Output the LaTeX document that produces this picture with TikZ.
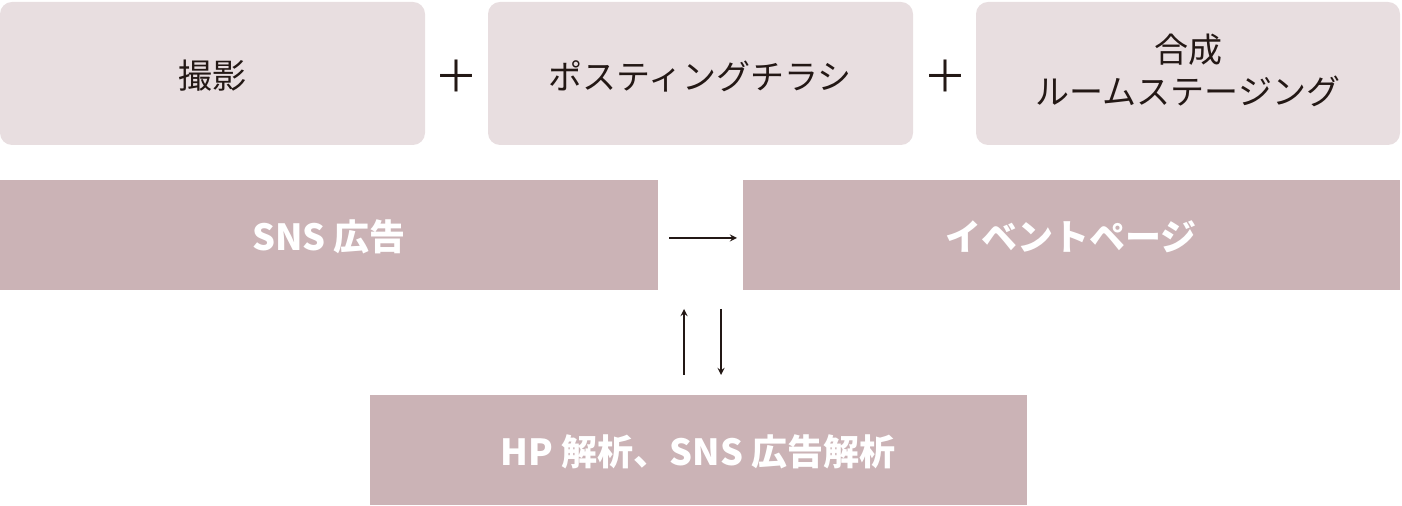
\documentclass[tikz,border=0pt]{standalone}
\usepackage{fontspec}
\setmainfont{Noto Sans CJK JP}
\begin{document}
\begin{tikzpicture}[x=0.5pt,y=-0.5pt,
  light/.style={fill=lb,draw=none,rounded corners=6pt},
  dark/.style={fill=db,draw=none},
  toptxt/.style={text=tc,font=\fontsize{17}{21}\selectfont,align=center},
  bottxt/.style={text=white,font=\bfseries\fontsize{18}{22}\selectfont},
  arr/.style={->,>=stealth,line width=0.6pt,draw=tc,shorten >=0pt}]
\definecolor{lb}{HTML}{E8DEE0}
\definecolor{db}{HTML}{CBB3B6}
\definecolor{tc}{HTML}{231815}
\useasboundingbox (0,0) rectangle (1402,506);
\fill[light] (0,2) rectangle (425,145);
\fill[light] (488,2) rectangle (913,145);
\fill[light] (976,2) rectangle (1400,145);
\node[toptxt] (t1) at (212,76) {撮影};
\node[toptxt] (t2) at (700,76) {ポスティングチラシ};
\node[toptxt] (t3) at (1188,70) {合成\\ルームステージング};
\node[toptxt,font=\fontsize{22}{22}\selectfont] (p1) at (456,76) {＋};
\node[toptxt,font=\fontsize{22}{22}\selectfont] (p2) at (945,76) {＋};
\fill[dark] (0,180) rectangle (658,290);
\fill[dark] (743,180) rectangle (1400,290);
\fill[dark] (370,395) rectangle (1027,505);
\node[bottxt] (b1) at (329,237) {SNS 広告};
\node[bottxt] (b2) at (1071,237) {イベントページ};
\node[bottxt] (b3) at (698,452) {HP 解析、SNS 広告解析};
\coordinate (a1) at (669,238); \coordinate (a2) at (737,238);
\coordinate (u1) at (684,375); \coordinate (u2) at (684,309);
\coordinate (d1) at (721,309); \coordinate (d2) at (721,375);
\draw[arr] (a1) -- (a2);
\draw[arr] (u1) -- (u2);
\draw[arr] (d1) -- (d2);
\end{tikzpicture}
\end{document}
